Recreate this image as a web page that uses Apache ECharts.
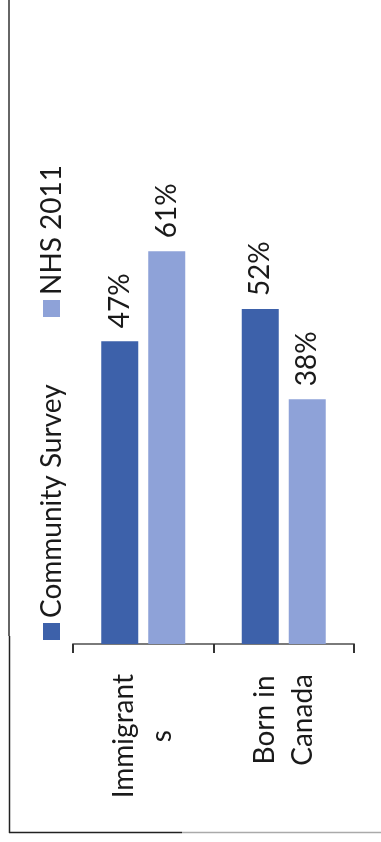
<!DOCTYPE html>
<html>
<head>
<meta charset="utf-8">
<script src="https://cdn.jsdelivr.net/npm/echarts@6/dist/echarts.min.js"></script>
<style>
  html, body { margin: 0; padding: 0; background: #ffffff; }
  #chart { width: 381px; height: 842px; }
</style>
</head>
<body>
<div id="chart"></div>
<script>
// Share of respondents, by origin group and source
const categories = ['Immigrant\ns', 'Born in\nCanada'];
const seriesNames = ['Community Survey', 'NHS 2011'];
const communitySurvey = [47, 52];
const nhs2011 = [61, 38];

const FONT = 'Lato';
const TEXT_SIZE = 28;
const colors = ['#3d61aa', '#8ea2d8'];

const chart = echarts.init(document.getElementById('chart'), null, { renderer: 'canvas' });

const valueLabel = {
  show: true,
  position: 'top',
  distance: 13,
  rotate: 90,
  align: 'left',
  verticalAlign: 'middle',
  formatter: '{c}%',
  fontFamily: FONT,
  fontSize: TEXT_SIZE,
  color: '#1a1a1a'
};

// Legend drawn sideways, reading bottom to top
const legendItems = [
  { square: [43, 623], textAt: [52, 618] },
  { square: [43, 300], textAt: [52, 295] }
];
const legendGraphics = [];
seriesNames.forEach((name, i) => {
  const it = legendItems[i];
  legendGraphics.push({
    type: 'rect',
    shape: { x: it.square[0], y: it.square[1], width: 17, height: 17 },
    style: { fill: colors[i] }
  });
  legendGraphics.push({
    type: 'text',
    x: it.textAt[0],
    y: it.textAt[1],
    rotation: Math.PI / 2,
    style: {
      text: name,
      fontFamily: FONT,
      fontSize: TEXT_SIZE,
      fill: '#1a1a1a',
      align: 'left',
      verticalAlign: 'middle'
    }
  });
});

// Frame lines around the figure
const frame = [
  { type: 'line', shape: { x1: 9, y1: 0, x2: 9, y2: 636 }, style: { stroke: '#666666', lineWidth: 2 } },
  { type: 'line', shape: { x1: 9.5, y1: 636, x2: 9.5, y2: 833 }, style: { stroke: '#222222', lineWidth: 1.5 } },
  { type: 'line', shape: { x1: 9, y1: 832.5, x2: 182, y2: 832.5 }, style: { stroke: '#222222', lineWidth: 1.5 } },
  { type: 'line', shape: { x1: 182, y1: 832.5, x2: 381, y2: 832.5 }, style: { stroke: '#aaaaaa', lineWidth: 1.5 } }
];

chart.setOption({
  animation: false,
  backgroundColor: '#ffffff',
  grid: { left: 73, right: 27, top: -2, bottom: 198 },
  xAxis: {
    type: 'category',
    data: categories,
    boundaryGap: true,
    axisLine: { show: true, lineStyle: { color: '#7a7a7a', width: 2 } },
    axisTick: { show: true, length: 9, lineStyle: { color: '#333333', width: 2 } },
    axisLabel: {
      interval: 0,
      rotate: 90,
      margin: 30,
      fontFamily: FONT,
      fontSize: TEXT_SIZE,
      color: '#1a1a1a',
      formatter: v => v.split('\n').map(s => '{c|' + s + '}').join('\n'),
      rich: {
        c: { align: 'center', fontFamily: FONT, fontSize: TEXT_SIZE, color: '#1a1a1a', lineHeight: 38 }
      }
    }
  },
  yAxis: {
    type: 'value',
    min: 0,
    max: 100,
    show: false,
    splitLine: { show: false }
  },
  series: [
    {
      name: seriesNames[0],
      type: 'bar',
      data: communitySurvey,
      barWidth: 37,
      barGap: '27%',
      itemStyle: { color: colors[0] },
      label: valueLabel
    },
    {
      name: seriesNames[1],
      type: 'bar',
      data: nhs2011,
      barWidth: 37,
      barGap: '27%',
      itemStyle: { color: colors[1] },
      label: valueLabel
    }
  ],
  graphic: frame.concat(legendGraphics)
});
</script>
</body>
</html>
